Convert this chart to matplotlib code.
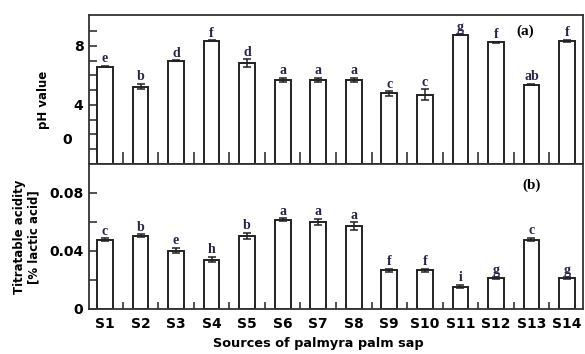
import matplotlib

matplotlib.use('Agg')
import matplotlib.pyplot as plt
import numpy as np

# sources of palmyra palm sap
sources = ['S1', 'S2', 'S3', 'S4', 'S5', 'S6', 'S7', 'S8', 'S9', 'S10',
           'S11', 'S12', 'S13', 'S14']

# (a) pH value
ph_mean = [6.6, 5.25, 7.0, 8.35, 6.85, 5.7, 5.7, 5.7, 4.78, 4.7,
           8.75, 8.25, 5.38, 8.35]
ph_err = [0.05, 0.2, 0.03, 0.03, 0.25, 0.15, 0.15, 0.15, 0.15, 0.35,
          0.03, 0.05, 0.05, 0.05]
ph_letters = ['e', 'b', 'd', 'f', 'd', 'a', 'a', 'a', 'c', 'c',
              'g', 'f', 'ab', 'f']

# (b) titratable acidity
ta_mean = [0.0478, 0.0505, 0.0402, 0.034, 0.0503, 0.0616, 0.0602, 0.0573,
           0.0266, 0.0266, 0.0155, 0.0213, 0.0478, 0.0213]
ta_err = [0.001, 0.001, 0.0018, 0.0018, 0.002, 0.001, 0.002, 0.0025,
          0.001, 0.001, 0.001, 0.0006, 0.0012, 0.0005]
ta_letters = ['c', 'b', 'e', 'h', 'b', 'a', 'a', 'a', 'f', 'f',
              'i', 'g', 'c', 'g']

W, H = 585, 354
fig = plt.figure(figsize=(W / 100, H / 100), dpi=100)
left, right = 89 / W, 583 / W
ax_a = fig.add_axes([left, 1 - 164 / H, right - left, (164 - 15) / H])
ax_b = fig.add_axes([left, 1 - 309 / H, right - left, (309 - 164) / H])

x = np.arange(len(sources))
letter_color = '#23234f'
serif = 'Liberation Serif'
edge = '#222222'


def draw_panel(ax, means, errs, letters, ylim, tag, tag_xy, tick_len):
    ax.bar(x, means, width=0.44, color='white', edgecolor=edge, linewidth=1.4,
           zorder=2)
    ax.errorbar(x, means, yerr=errs, fmt='none', ecolor=edge, elinewidth=1.1,
                capsize=3, capthick=1.1, zorder=3)
    for xi, m, e, lab in zip(x, means, errs, letters):
        ax.annotate(lab, (xi, m + e), xytext=(0, 0.5), textcoords='offset points',
                    ha='center', va='bottom', fontsize=10, color=letter_color,
                    family=serif, fontweight='bold')
    ax.set_xlim(-0.45, len(sources) - 0.55)
    ax.set_ylim(*ylim)
    ax.set_xticks(x[:-1] + 0.5, minor=True)
    ax.tick_params(axis='x', which='minor', direction='in', length=tick_len,
                   width=1.1, color=edge)
    ax.tick_params(axis='y', direction='in', length=6, width=1.1, color=edge,
                   labelsize=10, pad=4)
    for s in ax.spines.values():
        s.set_linewidth(1.3)
        s.set_color('#333333')
    ax.text(tag_xy[0], tag_xy[1], tag, transform=fig.transFigure, ha='center',
            va='center', fontsize=11, fontweight='bold', family=serif)


draw_panel(ax_a, ph_mean, ph_err, ph_letters, (0, 10.1), '(a)',
           (525 / W, 1 - 31 / H), 9)
draw_panel(ax_b, ta_mean, ta_err, ta_letters, (0, 0.1), '(b)',
           (532 / W, 1 - 185 / H), 5)

# panel (a) y ticks: every unit, labelled only at 8 and 4 (the "0" sits lower)
ax_a.set_yticks(range(1, 10))
ax_a.set_yticklabels(['', '', '', '4', '', '', '', '8', ''], fontweight='bold')
ax_a.text(-0.035, 1.6, '0', transform=ax_a.get_yaxis_transform(), ha='right',
          va='center', fontsize=10, fontweight='bold')
ax_a.set_xticks(x)
ax_a.tick_params(axis='x', which='major', length=0, labelbottom=False)

ax_b.set_yticks([0, 0.02, 0.04, 0.06, 0.08])
ax_b.set_yticklabels(['0', '', '0.04', '', '0.08'], fontweight='bold')
ax_b.set_xticks(x)
ax_b.set_xticklabels(sources, fontweight='bold', fontsize=10)
ax_b.tick_params(axis='x', which='major', length=0, pad=6)

fig.text(43 / W, 1 - 100 / H, 'pH value', rotation=90, ha='center',
         va='center', fontsize=8.5, fontweight='bold')
fig.text(27 / W, 1 - 237 / H, 'Titratable acidity\n[% lactic acid]',
         rotation=90, ha='center', va='center', fontsize=8.5,
         fontweight='bold', linespacing=1.15)
fig.text(318 / W, 1 - 343 / H, 'Sources of palmyra palm sap', ha='center',
         va='center', fontsize=9.3, fontweight='bold')

fig.savefig('out.png', dpi=100)
